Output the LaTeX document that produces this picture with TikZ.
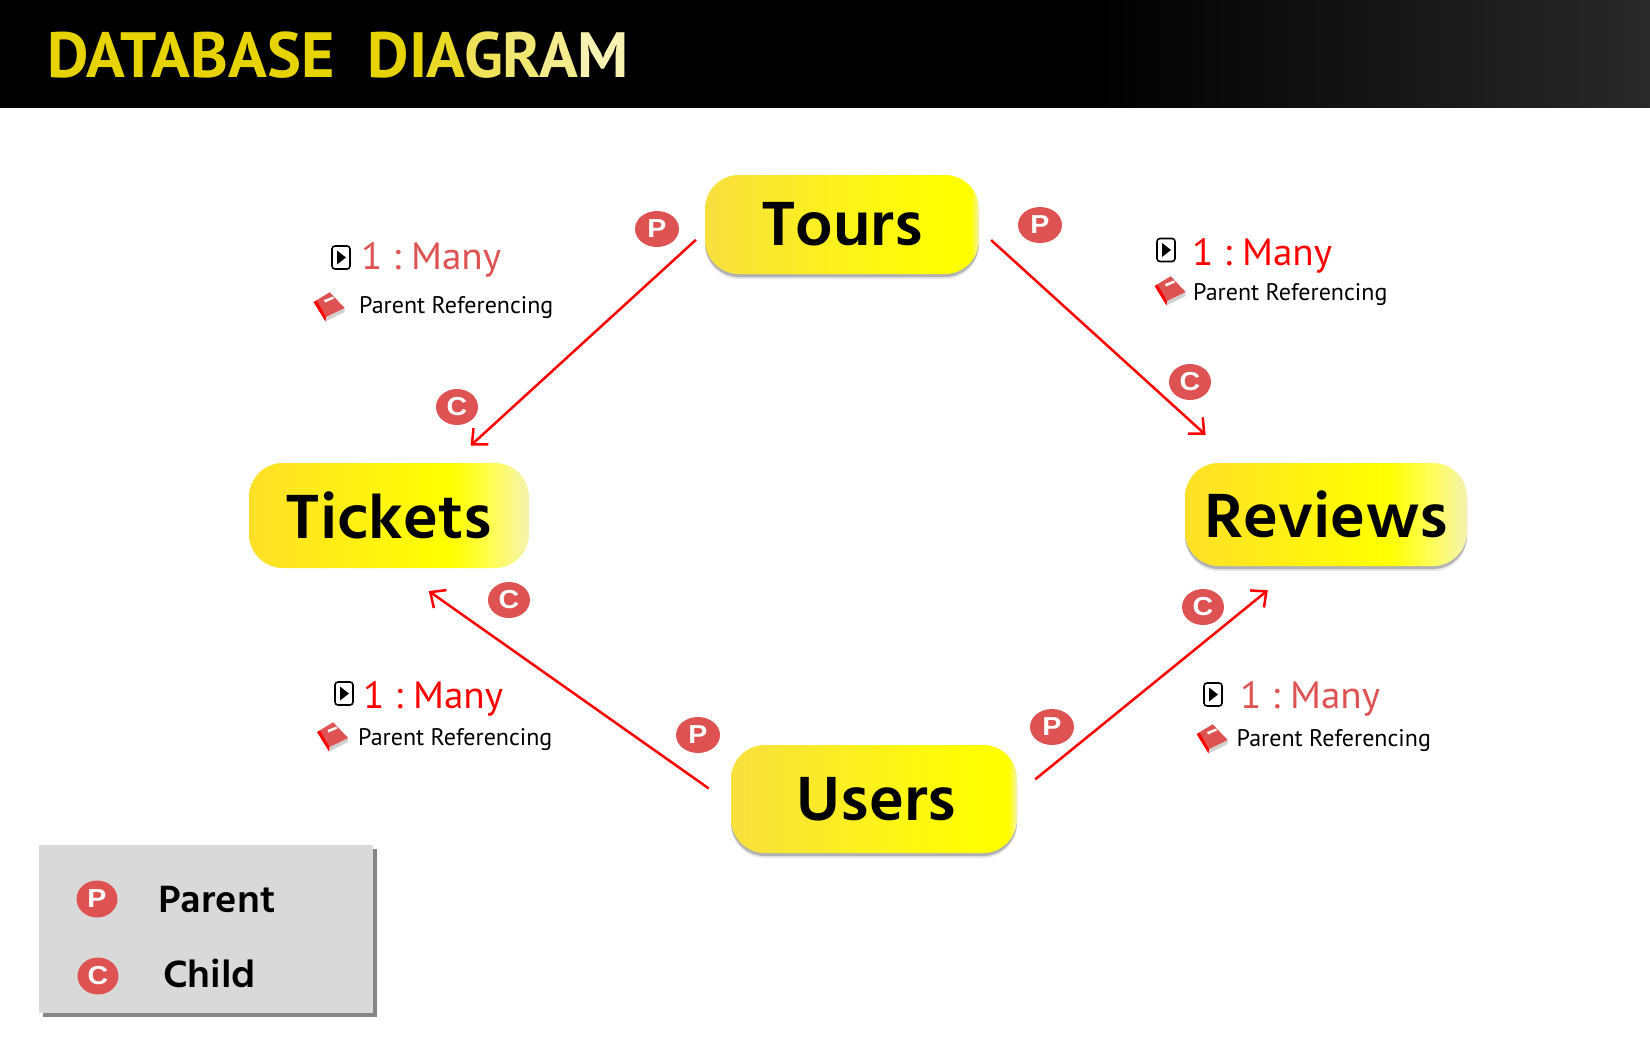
\documentclass[tikz,border=0pt]{standalone}
\usepackage{fontspec}
\setmainfont{PT Sans}
\newfontfamily\entityfont[FakeStretch=1.04]{Hind Madurai}
\newfontfamily\manyfont[FakeStretch=1.03]{PT Sans}
\newfontfamily\badgefont[FakeStretch=1.1]{Liberation Sans}
\usetikzlibrary{arrows.meta,shapes.geometric,shadows}
\definecolor{BadgeRed}{HTML}{DE5252}
\definecolor{LegendGray}{HTML}{D9D9D9}
\definecolor{TitleGold}{HTML}{E6D300}
\definecolor{PlainStart}{HTML}{F8E03E}
\definecolor{FadeStart}{HTML}{FFE028}
\definecolor{FadeMid}{HTML}{FFFF50}
\definecolor{FadeEnd}{HTML}{F5F2B0}
\pgfdeclarehorizontalshading{HeaderShade}{100bp}{color(0bp)=(black); color(25bp)=(black); color(58bp)=(black); color(75bp)=(black!84!white); color(100bp)=(black!84!white)}
\pgfdeclarehorizontalshading{PlainShade}{100bp}{color(0bp)=(PlainStart); color(25bp)=(PlainStart); color(69bp)=(yellow); color(73.5bp)=(yellow); color(75bp)=(FadeEnd); color(100bp)=(FadeEnd)}
\pgfdeclarehorizontalshading{FadeShade}{100bp}{color(0bp)=(FadeStart); color(25bp)=(FadeStart); color(61bp)=(yellow); color(68bp)=(FadeMid); color(75bp)=(FadeEnd); color(100bp)=(FadeEnd)}
\tikzset{
   entity/.style={rounded corners=34pt,inner sep=0pt,font=\entityfont\bfseries\fontsize{64}{70}\selectfont},
   softshadow/.style={
    drop shadow={shadow xshift=0pt,shadow yshift=-5pt,opacity=.2,fill=gray},
    drop shadow={shadow xshift=0pt,shadow yshift=-3pt,opacity=.4,fill=black!60}},
   relarrow/.style={-{Straight Barb[length=12pt,width=22pt]},red,line width=2.5pt},
   badge/.style={ellipse,fill=BadgeRed,text=white,minimum width=42pt,minimum height=36pt,inner sep=0pt,
    font=\badgefont\bfseries\fontsize{26}{26}\selectfont},
   manylabel/.style={anchor=base west,inner sep=0pt,font=\manyfont\fontsize{38}{40}\selectfont},
   reflabel/.style={anchor=base west,inner sep=0pt,font=\fontsize{24}{25}\selectfont},
   legendlabel/.style={anchor=base west,inner sep=0pt,font=\entityfont\bfseries\fontsize{39}{40}\selectfont},
   playicon/.pic={
    \draw[line width=1.6pt,rounded corners=3pt,fill=white] (-9,-11.5) rectangle (9,11.5);
    \fill (-4,-7) -- (5,0) -- (-4,7) -- cycle;
   },
   bookicon/.pic={
    \fill[black!18] (-3,10) -- (15.7,1) -- (15.7,5) -- (-3.5,14.5) -- cycle;
    \fill[BadgeRed] (0.7,-14.7) -- (15.7,1) -- (-3,10) -- (-14.3,-5.7) -- cycle;
    \fill[red] (-15.5,-5) -- (-12.5,-6.5) -- (-3,10) -- (-3.5,14.5) -- cycle;
    \fill[white] (-5,-7) -- (4,-10.5) -- (5,-8.5) -- (-4,-4.5) -- cycle;
   }
}
\begin{document}
\begin{tikzpicture}[x=1pt,y=-1pt]
   \useasboundingbox (0,0) rectangle (1650,1050);
   \shade[shading=HeaderShade] (0,0) rectangle (1650,107.5);
   \node[anchor=base west,inner sep=0pt,font=\bfseries\fontsize{64}{70}\selectfont] (title) at (47,77)
    {\textcolor{TitleGold}{DATABASE\ \ \kern1pt DI}\kern-1pt\textcolor{TitleGold!85!white}{A}\kern-1pt\textcolor{TitleGold!65!white}{G}\kern-1pt\textcolor{TitleGold!55!white}{R}\kern-1pt\textcolor{TitleGold!45!white}{A}\kern-1pt\textcolor{TitleGold!30!white}{M}};

   \node[entity,softshadow,shading=PlainShade,minimum width=274pt,minimum height=99pt] (tours) at (842,224.5) {Tours};
   \node[entity,shading=FadeShade,minimum width=280pt,minimum height=105pt] (tickets) at (389,515.5) {Tickets};
   \node[entity,softshadow,shading=FadeShade,minimum width=282pt,minimum height=103pt] (reviews) at (1326,514.5) {Reviews};
   \node[entity,softshadow,shading=PlainShade,minimum width=286pt,minimum height=108pt] (users) at (874,799) {\kern5pt Users};

   \draw[relarrow,shorten <=12pt,shorten >=25.5pt] (tours.183.5) -- (tickets.40);
   \draw[relarrow,shorten <=16pt,shorten >=41.7pt] (tours.-2.7) -- (reviews.150.5);
   \draw[relarrow,shorten <=27pt,shorten >=39.7pt] (users.182.6) -- (tickets.278.2);
   \draw[relarrow,shorten <=23.2pt,shorten >=38.1pt] (users.2.2) -- (reviews.241.1);

   \foreach \x/\y/\name in {657/229/pA,1040/225/pB,698/735/pC,1052/727/pD} {
    \node[badge,minimum width=44pt] (\name) at (\x,\y) {P};
   }
   \foreach \x/\y/\name in {457/407/cA,1190/382/cB,509/600/cC,1203/607/cD} {
    \node[badge] (\name) at (\x,\y) {C};
   }

   \foreach \x/\y/\col/\name in {361/269/BadgeRed/A,1192/265/red/B,363/708/red/C,1240/708/BadgeRed/D} {
    \node[manylabel,text=\col] (many\name) at (\x,\y) {1\kern10pt:\kern10pt Many};
   }
   \foreach \x/\y/\name in {359/313/A,1193/300/B,358/745/C,1236.5/746/D} {
    \node[reflabel] (ref\name) at (\x,\y) {Parent Referencing};
   }
   \foreach \x/\y in {341/257.5,1166/250,344/693.5,1213/694.5} {
    \pic at (\x,\y) {playicon};
   }
   \foreach \x/\y in {329/307,1170/291,332.5/737,1212/739} {
    \pic at (\x,\y) {bookicon};
   }

   \fill[LegendGray,drop shadow={shadow xshift=4pt,shadow yshift=-4pt,opacity=.8,fill=black!60}] (39,845) rectangle (373,1013);
   \node[badge,minimum width=41pt,minimum height=37pt] (legendP) at (97,899) {P};
   \node[badge,minimum width=41pt,minimum height=37pt] (legendC) at (98,976) {C};
   \node[legendlabel] (legendParent) at (158,912) {Parent};
   \node[legendlabel] (legendChild) at (163,987) {Child};
\end{tikzpicture}
\end{document}
